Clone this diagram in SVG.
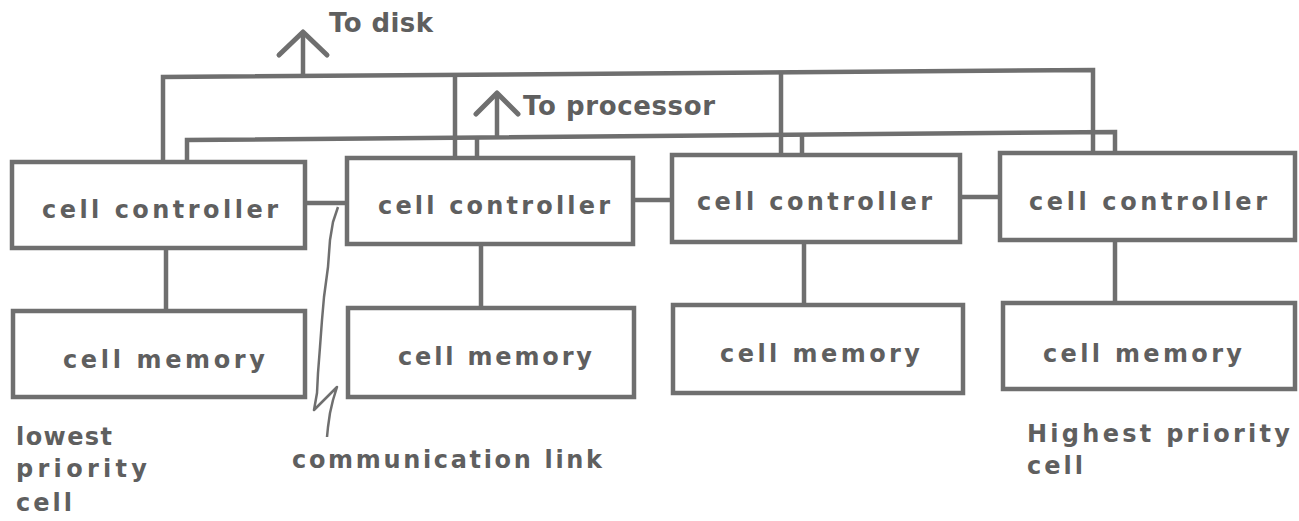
<svg xmlns="http://www.w3.org/2000/svg" width="1299" height="521" viewBox="0 0 1299 521">
  <style>
    .box { fill: #ffffff; stroke: #6f6f6f; stroke-width: 4.5; }
    .wire { fill: none; stroke: #6f6f6f; stroke-width: 4.5; stroke-linejoin: miter; }
    .head { fill: none; stroke: #6f6f6f; stroke-width: 5; stroke-linecap: round; stroke-linejoin: round; }
    .link { fill: none; stroke: #6f6f6f; stroke-width: 2.5; stroke-linejoin: round; }
    .lbl { font-family: "DejaVu Sans", "Liberation Sans", sans-serif; font-weight: bold; font-size: 24px; fill: #5f5f5f; }
    .big { font-size: 26px; }
  </style>
  <rect width="1299" height="521" fill="#ffffff"/>

  <!-- buses and links -->
  <g id="connectors">
    <!-- disk bus -->
    <polyline class="wire" points="163,162 163,77 1093,70 1093,153"/>
    <line class="wire" x1="455" y1="75" x2="455" y2="158"/>
    <line class="wire" x1="781" y1="72" x2="781" y2="155"/>
    <line class="wire" x1="303" y1="76" x2="303" y2="34"/>
    <polyline class="head" points="279,55 303,32 327,55"/>
    <!-- processor bus -->
    <polyline class="wire" points="187,162 187,140 1115,132 1115,153"/>
    <line class="wire" x1="477" y1="138" x2="477" y2="158"/>
    <line class="wire" x1="802" y1="135" x2="802" y2="155"/>
    <line class="wire" x1="497" y1="137" x2="497" y2="95"/>
    <polyline class="head" points="476,114 497,93 518,114"/>
    <!-- controller to controller -->
    <line class="wire" x1="305" y1="203" x2="347" y2="203"/>
    <line class="wire" x1="633" y1="200" x2="672" y2="200"/>
    <line class="wire" x1="960" y1="197" x2="1000" y2="197"/>
    <!-- controller to memory -->
    <line class="wire" x1="166" y1="248" x2="166" y2="311"/>
    <line class="wire" x1="481" y1="244" x2="481" y2="308"/>
    <line class="wire" x1="804" y1="242" x2="804" y2="305"/>
    <line class="wire" x1="1115" y1="240" x2="1115" y2="303"/>
    <!-- communication link pointer -->
    <polyline class="link" points="338,207 333,222 330,240 328,267 324,297 322,320 320,347 318,373 317,393 314,410 337,387 333,400 330,413 328,427 327,437"/>
  </g>

  <g id="ctrl1">
    <rect class="box" x="12" y="162" width="293" height="86"/>
    <text class="lbl" x="42" y="218" textLength="236" lengthAdjust="spacing">cell controller</text>
  </g>
  <g id="ctrl2">
    <rect class="box" x="347" y="158" width="286" height="86"/>
    <text class="lbl" x="378" y="214" textLength="232" lengthAdjust="spacing">cell controller</text>
  </g>
  <g id="ctrl3">
    <rect class="box" x="672" y="155" width="288" height="87"/>
    <text class="lbl" x="697" y="210" textLength="235" lengthAdjust="spacing">cell controller</text>
  </g>
  <g id="ctrl4">
    <rect class="box" x="1000" y="153" width="295" height="87"/>
    <text class="lbl" x="1029" y="210" textLength="238" lengthAdjust="spacing">cell controller</text>
  </g>

  <g id="mem1">
    <rect class="box" x="13" y="311" width="292" height="86"/>
    <text class="lbl" x="63" y="368" textLength="202" lengthAdjust="spacing">cell memory</text>
  </g>
  <g id="mem2">
    <rect class="box" x="348" y="308" width="286" height="89"/>
    <text class="lbl" x="398" y="365" textLength="194" lengthAdjust="spacing">cell memory</text>
  </g>
  <g id="mem3">
    <rect class="box" x="673" y="305" width="290" height="88"/>
    <text class="lbl" x="720" y="362" textLength="200" lengthAdjust="spacing">cell memory</text>
  </g>
  <g id="mem4">
    <rect class="box" x="1003" y="303" width="292" height="86"/>
    <text class="lbl" x="1043" y="362" textLength="199" lengthAdjust="spacing">cell memory</text>
  </g>

  <g id="labels">
    <text class="lbl big" x="329" y="32" textLength="104" lengthAdjust="spacing">To disk</text>
    <text class="lbl big" x="523" y="115" textLength="192" lengthAdjust="spacing">To processor</text>
    <text class="lbl" x="292" y="468" textLength="310" lengthAdjust="spacing">communication link</text>
    <text class="lbl" x="16" y="445" textLength="96" lengthAdjust="spacing">lowest</text>
    <text class="lbl" x="16" y="477" textLength="131" lengthAdjust="spacing">priority</text>
    <text class="lbl" x="16" y="511" textLength="56" lengthAdjust="spacing">cell</text>
    <text class="lbl" x="1027" y="442" textLength="263" lengthAdjust="spacing">Highest priority</text>
    <text class="lbl" x="1027" y="474" textLength="56" lengthAdjust="spacing">cell</text>
  </g>
</svg>
